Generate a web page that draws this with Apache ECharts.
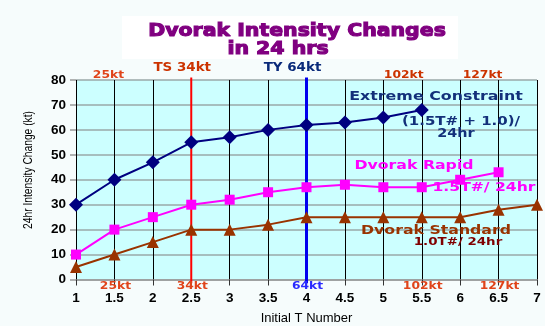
<!DOCTYPE html>
<html>
<head>
<meta charset="utf-8">
<script src="https://cdn.jsdelivr.net/npm/echarts@6/dist/echarts.min.js"></script>
<style>
  html, body { margin: 0; padding: 0; background: #f6fcfc; }
  #chart { width: 545px; height: 326px; }
</style>
</head>
<body>
<div id="chart"></div>
<script>
// Initial T numbers and 24 h intensity change (kt) for each Dvorak rule
const tNumbers = [1, 1.5, 2, 2.5, 3, 3.5, 4, 4.5, 5, 5.5, 6, 6.5, 7];
const extremeChange = [30, 40, 47, 55, 57, 60, 62, 63, 65, 68];
const rapidChange = [10, 20, 25, 30, 32, 35, 37, 38, 37, 37, 40, 43];
const standardChange = [5, 10, 15, 20, 20, 22, 25, 25, 25, 25, 25, 28, 30];

// Wind speed marks along the T axis
const topKtLabels = [
  { t: 1.5, text: '25kt' },
  { t: 2.5, text: 'TS 34kt' },
  { t: 4, text: 'TY 64kt' },
  { t: 5.5, text: '102kt' },
  { t: 6.5, text: '127kt' }
];
const bottomKtLabels = [
  { t: 1.5, text: '25kt' },
  { t: 2.5, text: '34kt' },
  { t: 4, text: '64kt' },
  { t: 5.5, text: '102kt' },
  { t: 6.5, text: '127kt' }
];
const tsThreshold = 2.5;
const tyThreshold = 4;

const pairs = (vals) => vals.map((v, i) => [tNumbers[i], v]);

const chart = echarts.init(document.getElementById('chart'), null, { renderer: 'canvas' });

const labelFont = '"DejaVu Sans", Verdana, sans-serif';

chart.setOption({
  animation: false,
  backgroundColor: '#f6fcfc',
  grid: {
    left: 76, right: 8, top: 80, bottom: 46.5,
    containLabel: false, outerBoundsMode: 'none',
    show: true, backgroundColor: '#ccffff', borderWidth: 0
  },
  xAxis: {
    type: 'value', min: 1, max: 7, interval: 0.5,
    name: 'Initial T Number', nameLocation: 'middle', nameGap: 32,
    nameTextStyle: { fontFamily: 'Liberation Sans, Arial', fontSize: 13, color: '#000' },
    axisLine: { show: true, lineStyle: { color: '#999', width: 1.5 } },
    axisTick: { show: true, length: 6, lineStyle: { color: '#333' } },
    axisLabel: {
      margin: 12, color: '#000', fontSize: 13.5, fontWeight: 'bold',
      fontFamily: 'Liberation Sans, Arial',
      formatter: (v) => String(v)
    },
    splitLine: { show: true, lineStyle: { color: '#000', width: 1 } }
  },
  yAxis: {
    type: 'value', min: 0, max: 80, interval: 10,
    axisLine: { show: false },
    axisTick: { show: true, length: 6, lineStyle: { color: '#999', width: 1.5 } },
    axisLabel: {
      margin: 10, color: '#000', fontSize: 13.5, fontWeight: 'bold',
      fontFamily: 'Liberation Sans, Arial'
    },
    splitLine: { show: true, lineStyle: { color: '#9aa8a8', width: 1.5 } }
  },
  series: [
    {
      name: 'TS', type: 'line', clip: false, silent: true,
      data: [[tsThreshold, -1.5], [tsThreshold, 81]],
      showSymbol: false, lineStyle: { color: '#ff0000', width: 2 }, z: 3
    },
    {
      name: 'TY', type: 'line', clip: false, silent: true,
      data: [[tyThreshold, -1.5], [tyThreshold, 81]],
      showSymbol: false, lineStyle: { color: '#0000ee', width: 3 }, z: 3
    },
    {
      name: 'Dvorak Standard', type: 'line', data: pairs(standardChange),
      symbol: 'triangle', symbolSize: 12,
      lineStyle: { color: '#993300', width: 2 },
      itemStyle: { color: '#993300' }, z: 4
    },
    {
      name: 'Dvorak Rapid', type: 'line', data: pairs(rapidChange),
      symbol: 'rect', symbolSize: 10,
      lineStyle: { color: '#ff00ff', width: 2 },
      itemStyle: { color: '#ff00ff' }, z: 5
    },
    {
      name: 'Extreme Constraint', type: 'line', data: pairs(extremeChange),
      symbol: 'diamond', symbolSize: 14,
      lineStyle: { color: '#000080', width: 2 },
      itemStyle: { color: '#000080' }, z: 6
    }
  ]
});

// Text placed relative to data coordinates
function px(t, v) { return chart.convertToPixel({ gridIndex: 0 }, [t, v]); }

// Wide bold text (Verdana-like proportions via horizontal stretch)
function txt(x, y, text, color, size, sx, extra) {
  return {
    type: 'text', x: x, y: y, z: 20, scaleX: sx || 1,
    style: Object.assign({
      text: text, fill: color, fontSize: size, fontWeight: 'bold',
      fontFamily: labelFont, align: 'center', verticalAlign: 'middle'
    }, extra || {})
  };
}

const graphics = [];
// Title panel
graphics.push({ type: 'rect', shape: { x: 122, y: 16, width: 336, height: 43 }, style: { fill: '#ffffff' }, z: 1 });
graphics.push(txt(297, 31, 'Dvorak Intensity Changes', '#800080', 17.5, 1.17, { stroke: '#800080', lineWidth: 1.1 }));
graphics.push(txt(278, 49, 'in 24 hrs', '#800080', 17.5, 1.17, { stroke: '#800080', lineWidth: 1.1 }));

// Y axis title, condensed
graphics.push({
  type: 'text', x: 29, y: 170, rotation: Math.PI / 2, scaleX: 0.82, z: 20,
  style: {
    text: '24hr Intensity Change (kt)', fill: '#000', fontSize: 12.5,
    fontFamily: '"Liberation Sans", Arial, sans-serif',
    align: 'center', verticalAlign: 'middle'
  }
});

// Upper wind speed marks
const topOffsets = {
  '25kt': [-6, 75, '#e0441a'], 'TS 34kt': [-9, 68, '#cc3300'], 'TY 64kt': [-14, 68, '#0a2a7a'],
  '102kt': [-18, 75, '#cc3300'], '127kt': [-16, 75, '#cc3300']
};
topKtLabels.forEach((l) => {
  const p = px(l.t, 80);
  const o = topOffsets[l.text];
  graphics.push(txt(p[0] + o[0], o[1], l.text, o[2], l.text.length > 5 ? 12 : 11, 1.12));
});
// Lower wind speed marks
bottomKtLabels.forEach((l) => {
  const p = px(l.t, 0);
  const blue = l.t === tyThreshold;
  graphics.push(txt(p[0] + 1, p[1] + 7, l.text, blue ? '#2a2aff' : '#e0441a', 11, 1.12));
});

// Series annotations
graphics.push(txt(436, 97, 'Extreme Constraint', '#13307a', 13, 1.22));
graphics.push(txt(461, 122, '(1.5T# + 1.0)/', '#13307a', 12, 1.25));
graphics.push(txt(456, 134, '24hr', '#13307a', 12, 1.2));
graphics.push(txt(414, 166, 'Dvorak Rapid', '#ff00ff', 13, 1.21));
graphics.push(txt(484, 188, '1.5T#/ 24hr', '#ff00ff', 13, 1.2));
graphics.push(txt(436, 231, 'Dvorak Standard', '#993300', 13, 1.21));
graphics.push(txt(458, 242, '1.0T#/ 24hr', '#800000', 11, 1.22));

chart.setOption({ graphic: { elements: graphics } });
</script>
</body>
</html>
